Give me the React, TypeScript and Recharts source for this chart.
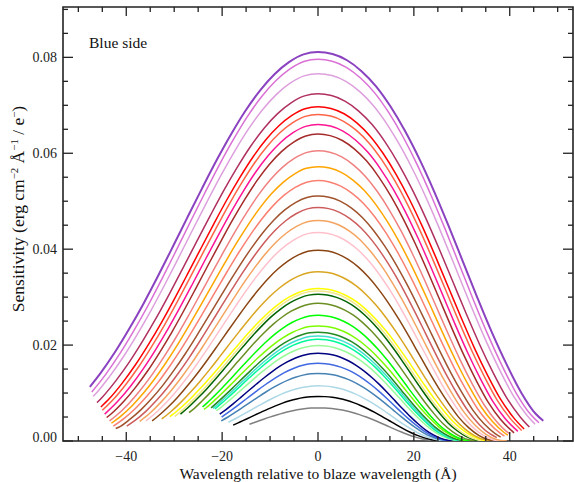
import React from 'react';
import { LineChart, Line, XAxis, YAxis, ReferenceArea } from 'recharts';

// ---------- data (one curve per echelle order, top to bottom) ----------
const seriesNames = [
  'purple', 'orchid', 'plum', 'maroon', 'red', 'tomato', 'deeppink', 'brown', 'lightcoral', 'orange', 'salmon',
  'sienna', 'indianred', 'sandybrown', 'pink', 'saddlebrown', 'goldenrod', 'yellow', 'khaki', 'darkgreen',
  'olivedrab', 'lime', 'lawngreen', 'forestgreen', 'turquoise', 'springgreen', 'palegreen', 'navy', 'royalblue',
  'steelblue', 'lightblue', 'black', 'gray',
];
const seriesColors = [
  '#8a42c0', '#da70d6', '#dda0dd', '#b03060', '#ff0000', '#ff6347', '#ff1493', '#a52a2a', '#f08080', '#ffa500', '#fa8072',
  '#a0522d', '#cd5c5c', '#f4a460', '#ffc0cb', '#8b4513', '#daa520', '#ffff00', '#f0e68c', '#006400',
  '#6b8e23', '#00ff00', '#7cfc00', '#228b22', '#40e0d0', '#00fa9a', '#98fb98', '#000080', '#4169e1',
  '#4682b4', '#add8e6', '#000000', '#808080',
];
// peak sensitivity at the blaze wavelength
const peakValues = [
  0.0811, 0.0796, 0.0766, 0.0724, 0.0697, 0.0681, 0.0660, 0.0640, 0.0605, 0.0572, 0.0543,
  0.0511, 0.0487, 0.0460, 0.0435, 0.0398, 0.0353, 0.0318, 0.0313, 0.0306,
  0.0287, 0.0262, 0.0240, 0.0227, 0.0219, 0.0212, 0.0199, 0.0183, 0.0162,
  0.0141, 0.0115, 0.0093, 0.0069,
];
// half width at half maximum (Angstrom), blue side of each curve
const halfWidths = [
  30.27, 29.55, 29.05, 28.1, 27.2, 26.7, 26.05, 25.4, 24.75, 24.3, 23.75,
  23.1, 22.45, 21.9, 21.4, 20.95, 20.45, 20.2, 19.65, 19.35,
  18.65, 18.1, 17.95, 17.5, 17.3, 17.1, 16.8, 16.05, 15.85,
  15.65, 15.25, 14.8, 14.4,
];
// first point of each curve
const leftEndX = [
  -47.6, -47.2, -46.9, -46.1, -45.3, -45.0, -44.5, -44.1, -43.5, -43.1, -42.7,
  -42.2, -39.9, -37.2, -35.9, -34.6, -32.6, -30.9, -29.9, -28.7,
  -26.9, -24.1, -23.8, -22.3, -21.9, -21.5, -21.2, -20.5, -20.1,
  -20.2, -18.7, -17.7, -14.3,
];
const leftEndY = [
  0.0113, 0.0102, 0.0093, 0.0080, 0.0071, 0.0064, 0.0056, 0.0049, 0.0042, 0.0037, 0.0031,
  0.0026, 0.0031, 0.0041, 0.0042, 0.0042, 0.0046, 0.0051, 0.0051, 0.0056,
  0.0059, 0.0071, 0.0066, 0.0069, 0.0068, 0.0067, 0.0063, 0.0056, 0.0050,
  0.0042, 0.0039, 0.0033, 0.0035,
];
// last point of each curve
const rightEndX = [
  47.0, 46.1, 45.3, 44.1, 43.0, 42.5, 41.7, 40.9, 40.1, 39.6, 38.9,
  38.1, 37.3, 39.4, 38.5, 37.7, 36.8, 36.3, 35.4, 34.8,
  33.6, 32.6, 32.3, 31.5, 31.1, 30.8, 30.2, 28.9, 28.5,
  28.2, 27.4, 26.6, 25.9,
];
const rightEndY = [
  0.0042, 0.0038, 0.0035, 0.0029, 0.0025, 0.0022, 0.0020, 0.0017, 0.0015, 0.0012, 0.0010,
  0.0008, 0.0007, 0, 0, 0, 0, 0, 0, 0,
  0, 0, 0, 0, 0, 0, 0, 0, 0,
  0, 0, 0, 0,
];
// normalised blaze profile of the curves (offset in half widths -> fraction of peak), blue and red sides
const profileOffsets = [0, 0.1, 0.2, 0.3, 0.4, 0.5, 0.6, 0.7, 0.8, 0.9, 1.0, 1.1, 1.2, 1.3, 1.4, 1.5, 1.6, 1.7, 1.8];
const profileBlue = [1.0, 0.994, 0.974, 0.943, 0.901, 0.849, 0.788, 0.721, 0.649, 0.575, 0.5, 0.426, 0.355, 0.289, 0.228, 0.174, 0.127, 0.088, 0.056];
const profileRed = [1.0, 0.995, 0.979, 0.951, 0.912, 0.86, 0.797, 0.724, 0.642, 0.553, 0.46, 0.367, 0.278, 0.197, 0.125, 0.07, 0.03, 0.007, 0];

const xTicks = [-50, -45, -40, -35, -30, -25, -20, -15, -10, -5, 0, 5, 10, 15, 20, 25, 30, 35, 40, 45, 50];
const yTicks = [0, 0.005, 0.01, 0.015, 0.02, 0.025, 0.03, 0.035, 0.04, 0.045, 0.05, 0.055, 0.06, 0.065, 0.07, 0.075, 0.08, 0.085, 0.09];
const xDomain: [number, number] = [-53.2, 53.2];
const yDomain: [number, number] = [0, 0.0905];

// ---------- layout ----------
const W = 574;
const H = 482;
const PLOT_TOP = 7;
const PLOT_BOTTOM = 441;
const PLOT_LEFT = 63;
const PLOT_RIGHT = 573;
// 1px reserved for each axis component
const M = { top: PLOT_TOP, right: W - PLOT_RIGHT, bottom: H - PLOT_BOTTOM - 1, left: PLOT_LEFT - 1 };
const AXIS = '#222';
const SERIF = '"Liberation Serif", "Times New Roman", serif';

type Pt = { x: number; y: number };
const buildSeries = (i: number): Pt[] => {
  const w = halfWidths[i];
  const p = peakValues[i];
  const pts: Pt[] = [{ x: leftEndX[i], y: leftEndY[i] }];
  for (let k = profileOffsets.length - 1; k >= 1; k--) {
    const x = -profileOffsets[k] * w;
    if (x > leftEndX[i] + 0.4) pts.push({ x, y: p * profileBlue[k] });
  }
  pts.push({ x: 0, y: p });
  for (let k = 1; k < profileOffsets.length; k++) {
    const x = profileOffsets[k] * w;
    if (x < rightEndX[i] - 0.4) pts.push({ x, y: p * profileRed[k] });
  }
  pts.push({ x: rightEndX[i], y: rightEndY[i] });
  return pts;
};
const seriesData = seriesNames.map((_, i) => buildSeries(i));
const drawOrder = seriesNames.map((_, i) => seriesNames.length - 1 - i);

const fmtX = (v: number) => (v < 0 ? '\u2212' + Math.abs(v) : String(v));

const XTick = (props: any) => {
  const { x, payload } = props;
  const v = Number(payload.value);
  const major = Math.abs(v) % 20 === 0;
  const len = major ? 9 : 5;
  return (
    <g>
      <line x1={x} x2={x} y1={PLOT_BOTTOM} y2={PLOT_BOTTOM - len} stroke={AXIS} strokeWidth={1.3} />
      <line x1={x} x2={x} y1={PLOT_TOP} y2={PLOT_TOP + len} stroke={AXIS} strokeWidth={1.3} />
      {major ? (
        <text x={x} y={PLOT_BOTTOM + 20} textAnchor="middle" fontFamily={SERIF} fontSize={14} fill={AXIS}>
          {fmtX(v)}
        </text>
      ) : null}
    </g>
  );
};

const YTick = (props: any) => {
  const { y, payload } = props;
  const v = Number(payload.value);
  const major = Math.abs(v / 0.02 - Math.round(v / 0.02)) < 1e-6;
  const len = major ? 10 : 5;
  return (
    <g>
      <line x1={PLOT_LEFT} x2={PLOT_LEFT + len} y1={y} y2={y} stroke={AXIS} strokeWidth={1.3} />
      <line x1={PLOT_RIGHT} x2={PLOT_RIGHT - len} y1={y} y2={y} stroke={AXIS} strokeWidth={1.3} />
      {major ? (
        <text x={PLOT_LEFT - 6} y={y + 4.8 - (v === 0 ? 4 : 0)} textAnchor="end" fontFamily={SERIF} fontSize={14} fill={AXIS}>
          {v.toFixed(2)}
        </text>
      ) : null}
    </g>
  );
};

const sup: React.CSSProperties = { fontSize: '0.62em', position: 'relative', top: '-0.6em' };

export default function App() {
  return (
    <div style={{ position: 'absolute', left: 0, top: 0, width: W, height: H, background: '#fff' }}>
      <LineChart width={W} height={H} margin={M}>
        <XAxis
          type="number"
          dataKey="x"
          domain={xDomain}
          ticks={xTicks}
          interval={0}
          height={1}
          axisLine={false}
          tickLine={false}
          tickSize={0}
          allowDataOverflow
          tick={(p: any) => <XTick {...p} />}
        />
        <YAxis
          type="number"
          domain={yDomain}
          ticks={yTicks}
          interval={0}
          width={1}
          axisLine={false}
          tickLine={false}
          tickSize={0}
          allowDataOverflow
          tick={(p: any) => <YTick {...p} />}
        />
        <ReferenceArea
          x1={xDomain[0]}
          x2={xDomain[1]}
          y1={yDomain[0]}
          y2={yDomain[1]}
          fill="none"
          fillOpacity={0}
          stroke={AXIS}
          strokeWidth={1.6}
          ifOverflow="visible"
        />
        {drawOrder.map((i) => (
          <Line
            key={seriesNames[i]}
            name={seriesNames[i]}
            data={seriesData[i]}
            dataKey="y"
            type="monotone"
            stroke={seriesColors[i]}
            strokeWidth={i === 0 ? 2 : 1.5}
            dot={false}
            activeDot={false}
            isAnimationActive={false}
          />
        ))}
      </LineChart>
      <div
        style={{
          position: 'absolute',
          left: 89,
          top: 35,
          fontFamily: SERIF,
          fontSize: 15.5,
          lineHeight: 1,
          color: '#111',
          whiteSpace: 'nowrap',
        }}
      >
        Blue side
      </div>
      <div
        style={{
          position: 'absolute',
          left: 318,
          top: 466,
          transform: 'translateX(-50%)',
          fontFamily: SERIF,
          fontSize: 15.5,
          lineHeight: 1,
          color: '#111',
          whiteSpace: 'nowrap',
        }}
      >
        Wavelength relative to blaze wavelength (Å)
      </div>
      <div
        style={{
          position: 'absolute',
          left: 19,
          top: 209,
          transform: 'translate(-50%, -50%) rotate(-90deg)',
          fontFamily: SERIF,
          fontSize: 17.5,
          lineHeight: 1,
          color: '#111',
          whiteSpace: 'nowrap',
        }}
      >
        Sensitivity (erg cm<span style={sup}>{'\u22122'}</span> Å<span style={sup}>{'\u22121'}</span> / e
        <span style={sup}>{'\u2212'}</span>)
      </div>
    </div>
  );
}
